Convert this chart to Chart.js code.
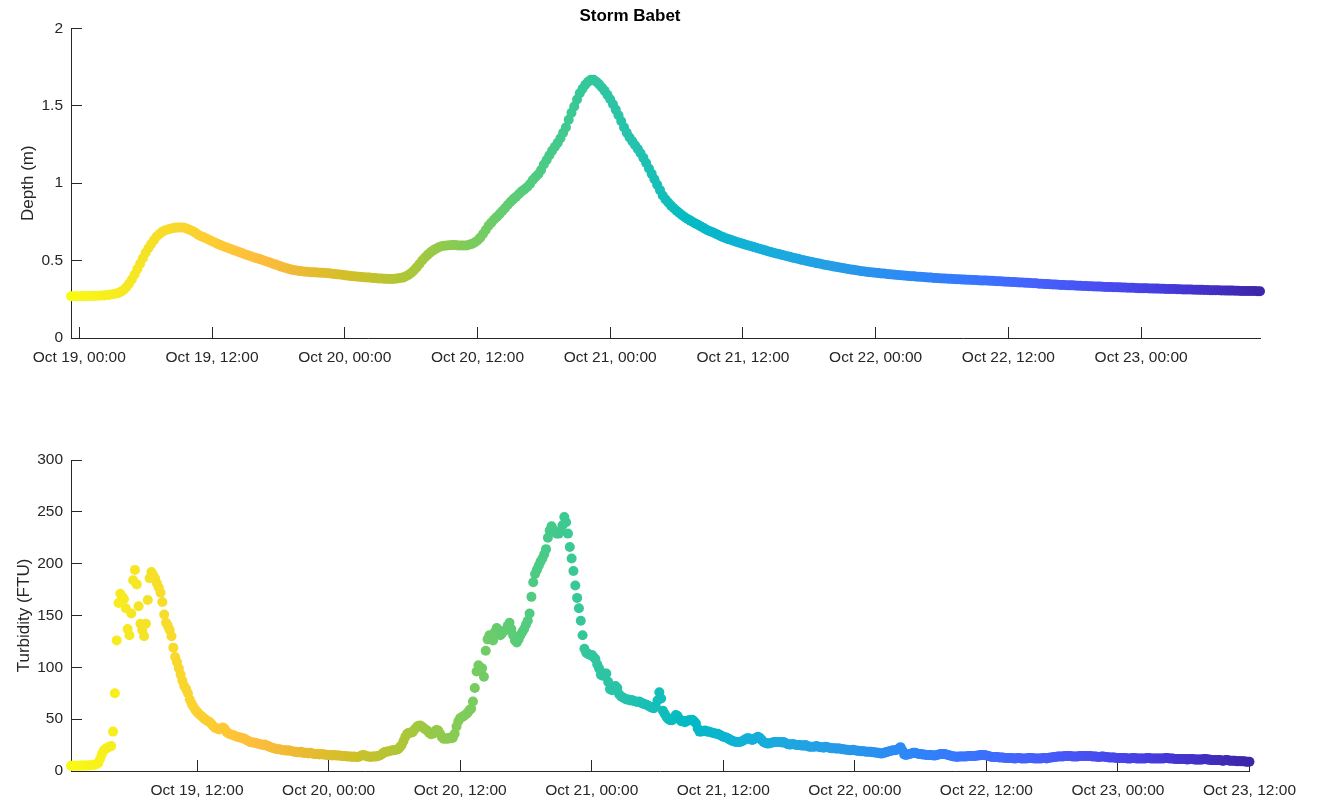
<!DOCTYPE html>
<html>
<head>
<meta charset="utf-8">
<title>Storm Babet</title>
<script src="https://cdn.jsdelivr.net/npm/chart.js@4.4.1/dist/chart.umd.min.js"></script>
<style>
  html, body { margin: 0; padding: 0; background: #fff; }
  canvas { position: absolute; left: 0; }
  #depthChart { top: 0; }
  #turbChart { top: 380px; }
</style>
</head>
<body>
<canvas id="depthChart" width="1317" height="380"></canvas>
<canvas id="turbChart" width="1317" height="421"></canvas>
<script>
// times are hours from Oct 19, 00:00
const DEPTH_START = -0.75
const DEPTH_STEP = 0.25
const depth = [
  0.27, 0.27, 0.27, 0.27, 0.271, 0.271, 0.272, 0.272,
  0.272, 0.273, 0.273, 0.274, 0.275, 0.277, 0.279, 0.282,
  0.286, 0.29, 0.298, 0.31, 0.328, 0.35, 0.378, 0.41,
  0.445, 0.48, 0.515, 0.55, 0.58, 0.607, 0.632, 0.655,
  0.672, 0.686, 0.695, 0.701, 0.706, 0.71, 0.713, 0.714,
  0.714, 0.712, 0.705, 0.697, 0.69, 0.68, 0.667, 0.657,
  0.65, 0.642, 0.633, 0.625, 0.617, 0.608, 0.6, 0.593,
  0.586, 0.58, 0.573, 0.566, 0.56, 0.553, 0.547, 0.54,
  0.534, 0.528, 0.522, 0.516, 0.511, 0.505, 0.499, 0.493,
  0.487, 0.48, 0.474, 0.468, 0.461, 0.455, 0.45, 0.445,
  0.44, 0.437, 0.434, 0.432, 0.43, 0.428, 0.427, 0.425,
  0.424, 0.423, 0.422, 0.421, 0.42, 0.418, 0.416, 0.414,
  0.412, 0.41, 0.408, 0.405, 0.403, 0.401, 0.399, 0.397,
  0.396, 0.394, 0.393, 0.391, 0.39, 0.388, 0.387, 0.385,
  0.384, 0.383, 0.382, 0.381, 0.381, 0.382, 0.384, 0.387,
  0.39, 0.397, 0.407, 0.42, 0.436, 0.456, 0.478, 0.5,
  0.52, 0.538, 0.553, 0.566, 0.577, 0.586, 0.592, 0.596,
  0.598, 0.599, 0.6, 0.6, 0.598, 0.597, 0.597, 0.598,
  0.602, 0.608, 0.617, 0.63, 0.648, 0.672, 0.698, 0.725,
  0.745, 0.765, 0.782, 0.8, 0.82, 0.84, 0.86, 0.88,
  0.897, 0.912, 0.93, 0.947, 0.96, 0.975, 0.995, 1.02,
  1.04, 1.058, 1.085, 1.12, 1.15, 1.18, 1.21, 1.235,
  1.26, 1.29, 1.325, 1.36, 1.41, 1.455, 1.495, 1.54,
  1.58, 1.61, 1.635, 1.655, 1.668, 1.668, 1.655, 1.638,
  1.618, 1.596, 1.57, 1.542, 1.51, 1.475, 1.438, 1.4,
  1.36, 1.325, 1.295, 1.27, 1.245, 1.22, 1.193, 1.163,
  1.13, 1.095, 1.06, 1.025, 0.99, 0.955, 0.92, 0.895,
  0.875, 0.855, 0.838, 0.822, 0.807, 0.793, 0.78, 0.768,
  0.758, 0.748, 0.738, 0.728, 0.718, 0.708, 0.698, 0.69,
  0.683, 0.675, 0.667, 0.657, 0.65, 0.643, 0.637, 0.631,
  0.625, 0.619, 0.613, 0.608, 0.602, 0.597, 0.592, 0.587,
  0.581, 0.576, 0.571, 0.566, 0.561, 0.556, 0.551, 0.546,
  0.542, 0.537, 0.533, 0.528, 0.524, 0.519, 0.515, 0.511,
  0.506, 0.502, 0.498, 0.494, 0.49, 0.486, 0.482, 0.479,
  0.475, 0.472, 0.468, 0.465, 0.461, 0.458, 0.455, 0.452,
  0.449, 0.446, 0.443, 0.44, 0.437, 0.434, 0.431, 0.429,
  0.427, 0.425, 0.423, 0.421, 0.419, 0.417, 0.416, 0.414,
  0.412, 0.41, 0.409, 0.407, 0.405, 0.404, 0.402, 0.401,
  0.399, 0.398, 0.396, 0.395, 0.394, 0.392, 0.391, 0.39,
  0.388, 0.387, 0.386, 0.385, 0.384, 0.383, 0.382, 0.381,
  0.38, 0.379, 0.378, 0.377, 0.376, 0.376, 0.375, 0.374,
  0.373, 0.372, 0.372, 0.371, 0.37, 0.369, 0.368, 0.367,
  0.366, 0.365, 0.364, 0.363, 0.362, 0.361, 0.36, 0.359,
  0.358, 0.357, 0.356, 0.355, 0.354, 0.353, 0.351, 0.35,
  0.349, 0.348, 0.347, 0.346, 0.345, 0.344, 0.343, 0.342,
  0.341, 0.34, 0.34, 0.339, 0.338, 0.337, 0.336, 0.336,
  0.335, 0.334, 0.333, 0.333, 0.332, 0.331, 0.33, 0.33,
  0.329, 0.328, 0.328, 0.327, 0.326, 0.326, 0.325, 0.324,
  0.324, 0.323, 0.322, 0.322, 0.321, 0.321, 0.32, 0.32,
  0.319, 0.319, 0.318, 0.318, 0.317, 0.317, 0.316, 0.316,
  0.315, 0.315, 0.314, 0.314, 0.313, 0.313, 0.312, 0.312,
  0.311, 0.311, 0.31, 0.31, 0.309, 0.309, 0.308, 0.308,
  0.307, 0.307, 0.306, 0.306, 0.306, 0.305, 0.305, 0.304,
  0.304, 0.304, 0.303, 0.303, 0.303, 0.302, 0.302
]

// one row per hour, 10 minute readings
const TURB_START = 0.5
const TURB_STEP = 1 / 6
const turbidity = [
  5, 5, 5,
  5, 5, 5.1, 5.2, 5.2, 5.3,
  5.3, 5.4, 5.5, 5.7, 6, 6.6,
  8, 12, 16.5, 20, 21.5, 22.5,
  23.5, 24, 38, 75, 126, 162,
  171, 168, 166, 157, 137, 131,
  152, 184, 194, 180, 159, 142,
  136, 130, 142, 165, 186, 192,
  189, 186, 181, 177, 172, 163,
  151, 143, 140, 136, 130, 119,
  110, 105, 99, 93, 87, 82,
  79, 75, 69, 65, 62, 59,
  57, 55, 53.5, 52, 50.5, 49,
  48, 47, 45, 43, 41.5, 41,
  40, 41, 42, 41, 38, 36.5,
  35.5, 35, 34.5, 33.5, 33, 32.5,
  32, 31.5, 31, 30, 29, 28,
  27.5, 27.5, 27, 26.5, 26, 25.5,
  25, 25.5, 24.5, 24, 23, 22.5,
  22, 21.5, 21, 21, 20.5, 20,
  20, 19.5, 20, 19.5, 19, 18.5,
  18.5, 18, 18, 18.5, 17.5, 17.5,
  17.5, 17, 17.5, 17, 16.5, 16.5,
  16.5, 16, 16.5, 16, 16, 15.5,
  15.5, 15.5, 15, 15.5, 15, 15,
  15, 14.5, 14.5, 14.5, 14, 14,
  14, 13.5, 14, 13.5, 13.5, 14,
  15, 15.5, 15, 14, 14, 13.5,
  14, 14, 14, 14.5, 15, 16,
  17.5, 18.5, 18.5, 19, 19.5, 20,
  20, 20.5, 21, 23, 25, 29,
  33, 36, 37, 37, 37.5, 40,
  42, 43.5, 44, 43, 41.5, 40,
  39, 37, 35.5, 36, 38, 39.5,
  39, 36, 32.5, 31, 31.5, 31,
  32, 31.5, 32, 36, 43, 48,
  51, 52, 53, 54.5, 56, 58.5,
  60, 67, 80, 96, 102, 97,
  99, 91, 116, 127, 131, 128,
  126, 134, 138, 136, 131, 133,
  135, 136, 140, 143, 137, 131,
  126, 124, 127, 131, 134, 137,
  141, 145, 152, 168, 182, 190,
  194, 198, 202, 205, 209, 214,
  225, 232, 236, 233, 230, 229,
  229, 231, 237, 245, 240, 229,
  216, 205, 193, 179, 167, 157,
  145, 131, 118, 114, 113, 112,
  112, 110, 108, 103, 99, 93,
  92, 94, 94, 86, 79, 78,
  80, 82, 80, 74, 72, 71,
  70, 69, 69, 68, 68.5, 67.5,
  67, 66.5, 67, 66, 65, 64.5,
  64, 63, 62, 61, 60.5, 63,
  68, 76, 70, 58, 55, 52,
  50, 49, 49, 51, 54, 53,
  50, 48, 48.5, 47, 48, 49,
  49, 49.5, 48, 46, 41, 38,
  38, 38.5, 39, 38, 38, 37.5,
  37, 36.5, 36, 36, 35, 34,
  33, 32.5, 32, 31, 30, 29,
  28.5, 28, 28, 28, 28.5, 29.5,
  30.5, 31.5, 31.5, 30.5, 30, 31,
  32, 33, 32, 30, 28, 27,
  26.5, 26.5, 27, 27.5, 28, 28,
  28, 28, 27.5, 28, 27, 26,
  25.5, 25.5, 26, 25.5, 25, 25,
  25, 24.5, 24.5, 25, 24, 23.5,
  23.5, 23.5, 23.5, 24, 23.5, 23,
  23, 22.5, 23.5, 23, 22.5, 22,
  22, 22, 21.5, 22, 21.5, 21,
  21, 20.5, 20.5, 20, 20, 20.5,
  20, 19.5, 19.5, 19, 19, 19,
  18.5, 18.5, 18.5, 18.5, 18, 18,
  17.5, 17.5, 17, 17, 17.5, 18,
  18.5, 19, 19.5, 20, 20, 20.5,
  21.5, 23, 20, 16, 15.5, 16,
  16.5, 17, 17.5, 17.5, 17, 16.5,
  16.5, 16, 16, 15.5, 15.5, 15.5,
  15.5, 15, 15, 15.5, 16, 16.5,
  16.5, 16.5, 16, 15.5, 15, 14.5,
  14, 14, 13.5, 14, 14, 14,
  14, 14, 14.5, 14.5, 14.5, 14.5,
  14.5, 15, 15, 15.5, 15.5, 15.5,
  15, 14.5, 14, 13.5, 13.5, 13.5,
  13.5, 13, 13, 13, 12.5, 12.5,
  12.5, 12.5, 12.5, 12, 12, 12.5,
  12.5, 12, 12, 12, 12, 12.5,
  12.5, 12.5, 12, 12, 12, 12,
  12, 12.5, 12.5, 12, 12.5, 13,
  13, 13.5, 13.5, 14, 14, 14,
  14, 14.5, 14.5, 14.5, 14.5, 14,
  14, 14, 14, 14.5, 14.5, 14.5,
  14.5, 14.5, 14.5, 14.5, 14, 14,
  14, 13.5, 13.5, 14, 14, 13.5,
  13.5, 13, 13, 13, 13, 12.5,
  12.5, 12.5, 12.5, 12.5, 12.5, 12,
  12, 12, 12.5, 12.5, 12, 12,
  12, 12, 12, 12, 12.5, 12.5,
  12, 12, 12, 12, 12, 12,
  12, 12, 12.5, 12.5, 12, 12,
  12, 11.5, 11.5, 11.5, 11.5, 11.5,
  11.5, 11.5, 11, 11.5, 11.5, 11.5,
  11, 11, 11, 11, 11, 11.5,
  11.5, 11, 11, 10.5, 10.5, 10.5,
  10.5, 10.5, 10.5, 10, 10, 10.5,
  10.5, 10, 10, 10, 10, 9.5,
  9.5, 9.5, 9.5, 9.5, 9, 9,
  9
]

const depthXTicks = [0, 12, 24, 36, 48, 60, 72, 84, 96]
const turbXTicks = [12, 24, 36, 48, 60, 72, 84, 96, 108]
const depthYTicks = [0, 0.5, 1, 1.5, 2]
const turbYTicks = [0, 50, 100, 150, 200, 250, 300]

// parula rows (of 64), flipped when applied
const PARULA = [
  [1, 0.2422, 0.1504, 0.6603], [4, 0.2647, 0.1978, 0.7952], [7, 0.2783, 0.2559, 0.8991],
  [10, 0.2810, 0.3228, 0.9579], [13, 0.2699, 0.3892, 0.9906], [16, 0.2206, 0.4603, 0.9973],
  [19, 0.1786, 0.5289, 0.9682], [22, 0.1540, 0.5902, 0.9218], [25, 0.1248, 0.6459, 0.8883],
  [28, 0.0689, 0.6948, 0.8394], [31, 0.0067, 0.7312, 0.7660], [34, 0.1408, 0.7584, 0.6842],
  [37, 0.2161, 0.7843, 0.5923], [40, 0.3406, 0.8008, 0.4789], [43, 0.5044, 0.7993, 0.3480],
  [46, 0.6720, 0.7793, 0.2227], [49, 0.8203, 0.7498, 0.1535], [52, 0.9393, 0.7288, 0.2100],
  [54, 0.9956, 0.7434, 0.2371], [57, 0.9892, 0.8136, 0.1885], [60, 0.9610, 0.8890, 0.1537],
  [64, 0.9769, 0.9839, 0.0805]
]

const AXIS = "#262626"
const MONTH = "Oct"
const FIRST_DAY = 19

Chart.defaults.font.family = "'Liberation Sans', Arial, Helvetica, sans-serif"
Chart.defaults.color = AXIS

function parulaColor(t) {
  const row = 1 + t * 63
  let k = 0
  while (k < PARULA.length - 2 && PARULA[k + 1][0] <= row) k++
  const a = PARULA[k]
  const b = PARULA[k + 1]
  const f = Math.min(1, Math.max(0, (row - a[0]) / (b[0] - a[0])))
  const c = [1, 2, 3].map(j => Math.round(255 * (a[j] + (b[j] - a[j]) * f)))
  return `rgb(${c.join(",")})`
}

function dateLabel(h) {
  const day = FIRST_DAY + Math.floor(h / 24)
  const hour = String(Math.round(h % 24)).padStart(2, "0")
  return `${MONTH} ${day}, ${hour}:00`
}

function makeChart(canvas, { start, step, values, xTicks, yTicks, yLabel, labelPad, top, xHeight, title }) {
  const points = values.map((y, i) => ({ x: start + i * step, y }))
  const colors = points.map((_, i) => parulaColor(1 - i / (points.length - 1)))

  return new Chart(canvas, {
    type: "scatter",
    data: {
      datasets: [{
        data: points,
        pointBackgroundColor: colors,
        pointBorderWidth: 0,
        pointRadius: 5,
        clip: false
      }]
    },
    options: {
      responsive: false,
      animation: false,
      events: [],
      layout: { padding: { left: 0, right: 57, top, bottom: 0 } },
      plugins: {
        legend: { display: false },
        tooltip: { enabled: false },
        title: title
          ? { display: true, text: title, color: "#000", font: { size: 17, weight: "bold" }, padding: { top: 5, bottom: 1.6 } }
          : { display: false }
      },
      scales: {
        x: {
          type: "linear",
          min: points[0].x,
          max: points[points.length - 1].x,
          afterBuildTicks: s => { s.ticks = xTicks.map(value => ({ value })) },
          afterFit: s => { s.height = xHeight },
          border: { display: true, color: AXIS, width: 1 },
          grid: { drawOnChartArea: false, drawTicks: true, tickLength: -11, color: AXIS },
          ticks: { padding: 21, autoSkip: false, maxRotation: 0, color: AXIS, font: { size: 15.5 }, callback: v => dateLabel(v) }
        },
        y: {
          min: yTicks[0],
          max: yTicks[yTicks.length - 1],
          afterBuildTicks: s => { s.ticks = yTicks.map(value => ({ value })) },
          afterFit: s => { s.width = 71 },
          border: { display: true, color: AXIS, width: 1 },
          grid: { drawOnChartArea: false, drawTicks: true, tickLength: -11, color: AXIS },
          ticks: { padding: 19, color: AXIS, font: { size: 15.5 }, callback: v => String(v) },
          title: { display: true, text: yLabel, color: AXIS, font: { size: 17 }, padding: { top: labelPad, bottom: 0 } }
        }
      }
    }
  })
}

makeChart(document.getElementById("depthChart"), {
  start: DEPTH_START, step: DEPTH_STEP, values: depth,
  xTicks: depthXTicks, yTicks: depthYTicks,
  yLabel: "Depth (m)", labelPad: 18, top: 0, xHeight: 42, title: "Storm Babet"
})

makeChart(document.getElementById("turbChart"), {
  start: TURB_START, step: TURB_STEP, values: turbidity,
  xTicks: turbXTicks, yTicks: turbYTicks,
  yLabel: "Turbidity (FTU)", labelPad: 14, top: 80, xHeight: 30
})
</script>
</body>
</html>
